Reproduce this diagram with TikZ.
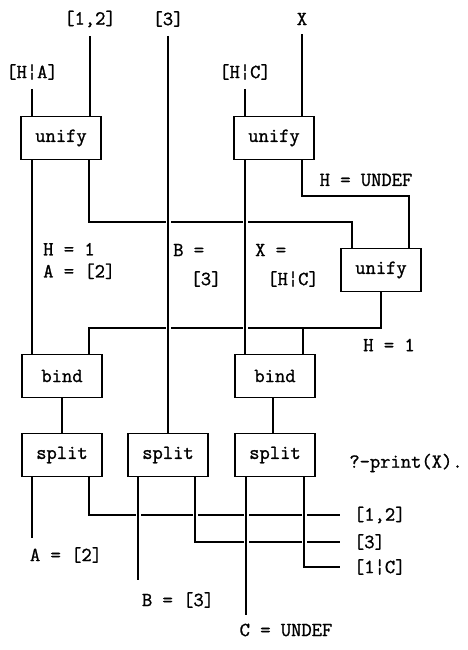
\documentclass[tikz,border=0pt]{standalone}
\usepackage{fontspec}
\newfontfamily\twfont{Latin Modern Mono}[FakeBold=1.2]
\newcommand{\fs}{\twfont\fontsize{20}{22}\selectfont}
\begin{document}
\begin{tikzpicture}[x=1pt,y=-1pt,
  box/.style={draw, line width=1.8pt, fill=white, minimum width=80pt, minimum height=43pt, inner sep=0pt, font=\fs},
  lab/.style={inner sep=1pt, outer sep=8pt, font=\fs},
  txt/.style={inner sep=1pt, font=\fs, align=left},
  outlab/.style={anchor=west, inner xsep=14pt, inner ysep=1pt, outer sep=0pt, font=\fs},
  wire/.style={line width=1.2pt},
  over/.style={wire, preaction={draw, white, line width=5pt, shorten <=3pt, shorten >=3pt}}
]
\useasboundingbox (0,0) rectangle (467,650);

% boxes
\node[box] (u1) at (61,138) {unify};
\node[box] (u2) at (274,138) {unify};
\node[box] (u3) at (381,270) {unify};
\node[box] (b1) at (62,376) {bind};
\node[box] (b2) at (275,376) {bind};
\node[box] (s1) at (62,455) {split};
\node[box] (s2) at (168,455) {split};
\node[box] (s3) at (275,455) {split};

% top labels
\node[lab] (t12) at (90,19) {[1,2]};
\node[lab] (t3) at (168,19) {[3]};
\node[lab] (tX) at (302,19) {X};
\node[lab] (tHA) at (32,72) {[H¦A]};
\node[lab] (tHC) at (245,72) {[H¦C]};

% middle texts
\node[txt, anchor=west] (mHA) at (42,261) {H = 1\\A = [2]};
\node[txt, anchor=west] (mB1) at (172,250) {B =};
\node[txt] (mB2) at (206,279) {[3]};
\node[txt, anchor=west] (mX1) at (254,250) {X =};
\node[txt] (mX2) at (293,279) {[H¦C]};
\node[txt] (mHU) at (366,180) {H = UNDEF};
\node[txt] (mH1) at (389,345) {H = 1};
\node[txt] (mP) at (406,463) {?-print(X).};

% results
\node[lab] (rA) at (66,555) {A = [2]};
\node[lab] (rB) at (178,600) {B = [3]};
\node[lab, outer sep=3pt] (rC) at (286,630) {C = UNDEF};
\node[outlab] (o1) at (340,515) {[1,2]};
\node[outlab] (o2) at (340,542) {[3]};
\node[outlab] (o3) at (340,567) {[1¦C]};

% junction coordinates
\coordinate (j1) at (352,222);
\coordinate (j2) at (409,196);
\coordinate (j3) at (89,328);
\coordinate (j4) at (303,328);
\coordinate (k1) at (89,515);
\coordinate (k2) at (195,542);
\coordinate (k3) at (304,567);
\coordinate (xl2) at (138,580);
\coordinate (xl3) at (246,615);

% top connectors
\draw[wire] (tHA) -- (tHA |- u1.north);
\draw[wire] (t12) -- (t12 |- u1.north);
\draw[wire] (tX) -- (tX |- u2.north);
\draw[wire] (tHC) -- (tHC |- u2.north);
\draw[wire] (u1.south -| tHA) -- (b1.north -| tHA);
\draw[wire] (u1.south -| j3) |- (j1) -- (j1 |- u3.north);
\draw[wire] (u2.south -| tX) |- (j2) -- (j2 |- u3.north);
\draw[wire] (u3.south) |- (j3) -- (j3 |- b1.north);
\draw[wire] (j4) -- (j4 |- b2.north);
\draw[over] (t3) -- (s2.north);
\draw[over] (u2.south -| tHC) -- (b2.north -| tHC);
\draw[wire] (b1.south) -- (s1.north);
\draw[wire] ([xshift=-2pt]b2.south) -- ([xshift=-2pt]s3.north);

% bottom connectors
\draw[wire] (s1.south -| tHA) -- (rA.north -| tHA);
\draw[wire] (s1.south -| k1) |- (o1.west);
\draw[over] (s2.south -| xl2) -- (xl2);
\draw[over] (s2.south -| k2) |- (o2.west);
\draw[over] (s3.south -| xl3) -- (xl3);
\draw[over] (s3.south -| k3) |- (o3.west);
\end{tikzpicture}
\end{document}
